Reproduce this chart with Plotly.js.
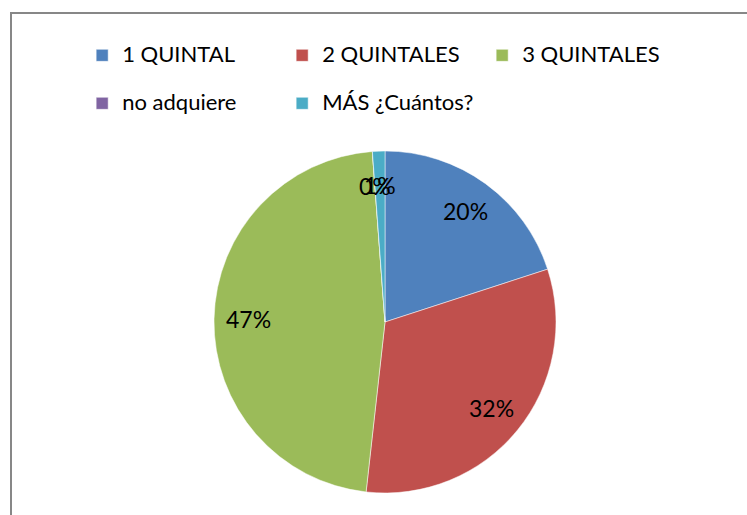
<!DOCTYPE html>
<html>
<head>
<meta charset="utf-8">
<script src="https://cdn.plot.ly/plotly-3.0.1.min.js"></script>
<style>
  html, body { margin: 0; padding: 0; background: #ffffff; }
  #frame { position: absolute; left: 10px; top: 12px; width: 737px; height: 503px;
           border-top: 2px solid #878787; border-left: 2px solid #878787; box-sizing: border-box; }
  #chart { position: absolute; left: 0; top: 0; width: 747px; height: 515px; }
</style>
</head>
<body>
<div id="frame"></div>
<div id="chart"></div>
<script>
const categories = ["1 QUINTAL", "2 QUINTALES", "3 QUINTALES", "no adquiere", "MÁS ¿Cuántos?"];
const counts = [17, 27, 40, 0, 1];
const sliceColors = ["#4f81bd", "#c0504d", "#9bbb59", "#8064a2", "#4bacc6"];

const W = 747, H = 515;
const FONT = "Lato, 'Liberation Sans', sans-serif";
const domX = [0.2865, 0.7443], domY = [0.0427, 0.7068];

// legend labels: same category text, with a blank second line for Excel-like row spacing
const legendLabels = categories.map(c => '<span style="font-size:22px">' + c + '</span><br> ');

const trace = {
  type: "pie",
  labels: legendLabels,
  values: counts,
  sort: false,
  direction: "clockwise",
  rotation: 0,
  marker: { colors: sliceColors, line: { color: "#ffffff", width: 0.5 } },
  textinfo: "none",
  domain: { x: domX, y: domY },
  hoverinfo: "none",
  showlegend: true
};

// percentage labels placed at each slice's mid-angle, like Excel's best-fit labels
const total = counts.reduce((a, b) => a + b, 0);
const cxPx = (domX[0] + domX[1]) / 2 * W;
const cyPx = (1 - (domY[0] + domY[1]) / 2) * H;
const Rpx = Math.min((domX[1] - domX[0]) * W, (domY[1] - domY[0]) * H) / 2;
const labelR = 0.8;
let cum = 0;
const annotations = counts.map((v, i) => {
  const mid = (cum + v / 2) / total * 2 * Math.PI;
  cum += v;
  const px = cxPx + labelR * Rpx * Math.sin(mid);
  const py = cyPx - labelR * Rpx * Math.cos(mid);
  return {
    xref: "paper", yref: "paper",
    x: px / W, y: 1 - py / H,
    xanchor: "center", yanchor: "middle",
    text: Math.round(v / total * 100) + "%",
    showarrow: false,
    font: { family: FONT, size: 23, color: "#000000" }
  };
});

const layout = {
  width: W, height: H,
  margin: { l: 0, r: 0, t: 0, b: 0 },
  paper_bgcolor: "rgba(0,0,0,0)",
  plot_bgcolor: "rgba(0,0,0,0)",
  font: { family: FONT, size: 20, color: "#000000" },
  showlegend: true,
  annotations: annotations,
  legend: {
    orientation: "h",
    x: 0.11, xanchor: "left",
    y: 0.927, yanchor: "top",
    entrywidth: 155, entrywidthmode: "pixels",
    traceorder: "normal",
    valign: "top",
    font: { family: FONT, size: 17.3, color: "#000000" },
    itemwidth: 30
  }
};

Plotly.newPlot("chart", [trace], layout, { displayModeBar: false, staticPlot: true });
</script>
</body>
</html>
